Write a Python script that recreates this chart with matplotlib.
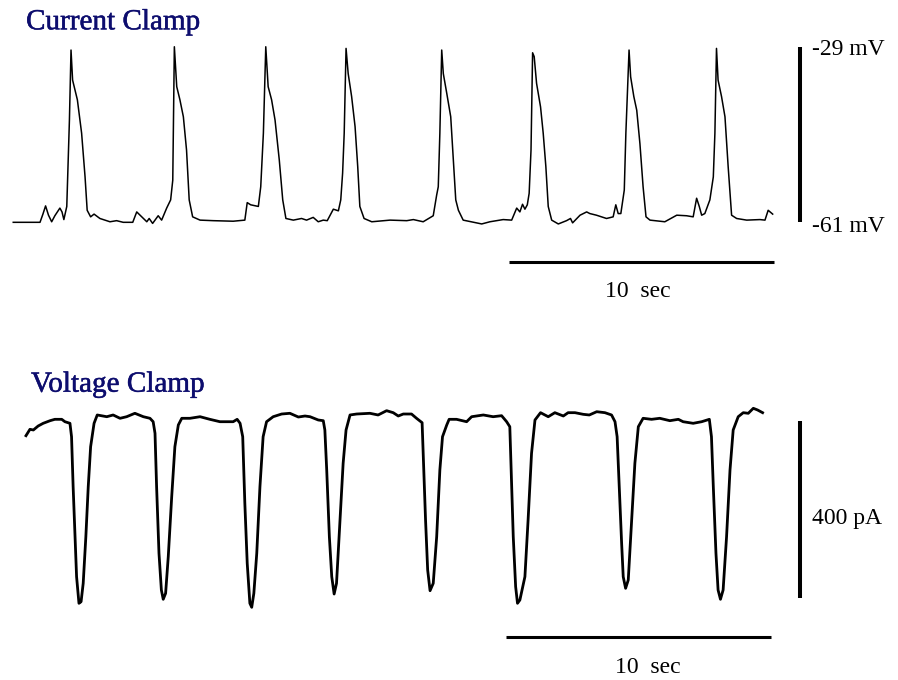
#!/usr/bin/env python3
"""
Current clamp / voltage clamp recordings with scale bars
"""

import numpy as np
import matplotlib
matplotlib.use('Agg')
import matplotlib.pyplot as plt
import matplotlib.patheffects as pe

# Current clamp trace: time (s) and membrane potential (mV)
cc_time = [0.01, 0.45, 0.83, 1.02, 1.13, 1.23, 1.34, 1.46, 1.58, 1.77, 1.85, 1.92, 2.03,
           2.13, 2.19, 2.25, 2.43, 2.59, 2.72, 2.80, 2.93, 3.06, 3.28, 3.66, 3.91, 4.16,
           4.52, 4.67, 4.86, 5.05, 5.14, 5.27, 5.48, 5.61, 5.80, 5.95,
           6.03, 6.09, 6.18, 6.30, 6.43, 6.55, 6.65, 6.78, 7.06, 7.56, 8.31, 8.75,
           8.84, 8.97, 9.26, 9.35, 9.45, 9.54, 9.63, 9.76, 9.89, 10.05, 10.18, 10.30,
           10.58, 10.89, 11.08, 11.33, 11.52, 11.71, 11.86, 12.09, 12.28, 12.37, 12.44,
           12.50, 12.57, 12.65, 12.78, 12.91, 13.01, 13.09, 13.25, 13.54, 14.23, 14.86,
           15.11, 15.48, 15.86, 15.99, 16.05, 16.11, 16.18, 16.24, 16.37, 16.52, 16.62,
           16.71, 16.81, 16.99, 17.50, 17.69, 18.00, 18.50, 18.82, 19.01, 19.13, 19.23,
           19.32, 19.41, 19.48, 19.55, 19.61, 19.67, 19.76, 19.91, 20.01, 20.11, 20.20,
           20.33, 20.58, 20.89, 21.04, 21.12, 21.40, 21.65, 21.77, 22.02, 22.40, 22.65,
           22.75, 22.84, 22.94, 23.07, 23.13, 23.25, 23.31, 23.43, 23.54, 23.66, 23.78,
           23.89, 24.04, 24.60, 25.05, 25.42, 25.67, 25.80, 25.90, 25.99, 26.11, 26.30,
           26.43, 26.49, 26.55, 26.61, 26.74, 26.87, 26.99, 27.12, 27.31, 27.69, 28.19,
           28.38, 28.50, 28.67]
cc_mv = [-61.0, -61.0, -61.0, -61.0, -59.5, -58.0, -59.7, -60.9, -59.8, -58.4, -59.1, -60.5,
         -58.1, -42.3, -29.5, -35.0, -38.6, -44.7, -52.7, -58.8, -60.0, -59.5, -60.3, -60.9,
         -60.7, -61.0, -61.0, -59.1, -60.0, -60.9, -60.3, -61.2, -59.8, -60.6, -58.4, -56.9,
         -53.3, -28.9, -36.2, -38.6, -41.7, -47.8, -56.9, -60.0, -60.6,
         -60.7, -60.8, -60.6, -57.4, -57.8, -58.1, -54.5, -44.7, -28.9, -36.2, -38.6, -42.3,
         -49.6, -56.9, -60.3, -60.6, -60.3, -60.6, -60.1, -60.9, -60.6, -60.7, -58.6, -58.9,
         -56.9, -52.0, -44.7, -29.2, -33.8, -38.0, -43.5, -50.8, -58.1, -60.3, -60.9, -60.6,
         -60.7, -60.5, -60.9, -59.8, -56.0, -54.5, -44.7, -29.5, -33.8, -37.4, -41.7, -49.6,
         -56.9, -58.8, -60.6, -61.1, -61.3, -60.9, -60.5, -60.6, -58.4, -59.1, -57.7, -58.6,
         -57.8, -55.7, -47.8, -30.0, -30.7, -35.6, -39.9, -44.7, -50.8, -58.1, -60.6, -61.3,
         -60.7, -60.3, -61.1, -59.7, -59.1, -59.4, -59.7, -60.3, -60.0, -57.8, -59.4, -59.4,
         -55.1, -44.7, -29.5, -34.4, -38.0, -40.5, -46.6, -54.5, -60.0, -60.6, -60.9, -59.7,
         -59.8, -60.0, -56.6, -58.1, -59.7, -59.4, -56.9, -52.7, -44.7, -29.2, -35.0, -38.0,
         -41.7, -50.8, -59.7, -60.3, -60.6, -60.5, -60.6, -58.8, -59.5]

# Voltage clamp trace: time (s) and holding current (pA)
vc_time = [0.00, 0.15, 0.28, 0.46, 0.65, 0.91, 1.09, 1.35, 1.47, 1.66, 1.72, 1.78, 1.85,
           1.91, 2.00, 2.08, 2.16, 2.26, 2.35, 2.44, 2.57, 2.69, 3.05, 3.29, 3.55, 3.80,
           4.11, 4.43, 4.68, 4.80, 4.87, 4.93, 5.02, 5.11, 5.18, 5.27, 5.37, 5.50, 5.62,
           5.75, 5.88, 6.19, 6.57, 6.94, 7.32, 7.82, 7.97, 8.08, 8.18, 8.26, 8.35, 8.45,
           8.52, 8.60, 8.71, 8.83, 8.95, 9.08, 9.33, 9.65, 9.96, 10.28, 10.53, 10.72,
           11.03, 11.22, 11.28, 11.35, 11.45, 11.54, 11.63, 11.72, 11.85, 11.97, 12.08,
           12.23, 12.48, 12.98, 13.29, 13.61, 13.86, 14.05, 14.24, 14.55, 14.74, 14.95,
           14.99, 15.08, 15.16, 15.25, 15.37, 15.50, 15.62, 15.72, 15.88, 15.97, 16.25,
           16.63, 16.82, 17.26, 17.63, 17.95, 18.14, 18.26, 18.33, 18.39, 18.48, 18.55,
           18.64, 18.83, 18.95, 19.08, 19.21, 19.42, 19.71, 19.96, 20.28, 20.46, 20.72,
           21.03, 21.26, 21.54, 21.85, 22.10, 22.23, 22.31, 22.39, 22.48, 22.54, 22.63,
           22.73, 22.86, 22.98, 23.11, 23.29, 23.61, 23.92, 24.30, 24.62, 24.80, 25.18,
           25.50, 25.79, 25.87, 25.94, 26.04, 26.12, 26.21, 26.31, 26.44, 26.57, 26.69,
           26.88, 27.07, 27.26, 27.45, 27.61, 27.80]
vc_pa = [-33.2, -18.8, -20.3, -11.3, -5.2, 0.7, 3.8, 3.8, -1.6, -5.2, -35.5, -148.5, -261.5,
         -351.9, -412.0, -408.4, -366.8, -261.5, -148.5, -58.1, -5.2, 13.6, 9.7, 13.6, 6.1,
         9.7, 17.4, 9.7, 6.1, -1.6, -27.8, -148.5, -299.0, -381.9, -402.9, -389.4, -306.7,
         -171.1, -58.1, -9.0, 6.1, 6.1, 9.7, 3.8, -1.6, -1.6, 3.8, -5.2, -35.5, -186.0,
         -321.6, -412.0, -421.0, -389.4, -299.0, -148.5, -35.5, -1.6, 9.7, 15.8, 17.4, 9.0,
         11.3, 9.7, 2.3, 0.7, -20.3, -110.7, -261.5, -351.9, -391.0, -366.8, -223.7, -95.6,
         -20.3, 13.6, 15.8, 17.4, 13.6, 23.3, 18.8, 11.3, 15.8, 15.8, 6.1, -3.8, -73.0,
         -223.7, -336.7, -383.5, -366.8, -261.5, -110.7, -35.5, -9.0, 3.8, 3.8, -1.6, 9.7,
         13.6, 9.7, 12.0, -1.6, -12.9, -148.5, -261.5, -374.5, -412.0, -404.5, -351.9,
         -223.7, -73.0, 2.3, 18.8, 9.7, 18.8, 11.3, 18.8, 18.8, 15.1, 13.6, 21.0, 18.8,
         13.6, -1.6, -35.5, -148.5, -276.4, -351.9, -378.1, -359.3, -223.7, -95.6, -12.9,
         6.1, 3.8, 6.1, 0.7, 3.8, -1.6, -5.2, -1.6, 3.8, -35.5, -148.5, -299.0, -381.9,
         -402.9, -381.9, -261.5, -110.7, -20.3, 9.7, 18.8, 17.4, 28.7, 24.9, 18.8]

TITLE_COLOR = '#0d0d6e'
SERIF = ['Liberation Serif', 'DejaVu Serif']


def draw_current_clamp(ax):
    """Membrane potential trace with time and voltage scale bars"""
    ax.plot(cc_time, cc_mv, color='black', linewidth=1.1)
    # voltage scale bar spans the full swing -61..-29 mV
    ax.plot([29.70, 29.70], [-29, -61], color='black', linewidth=2.9, solid_capstyle='butt')
    ax.text(30.15, -30.4, '-29 mV', fontsize=17, family=SERIF, va='baseline')
    ax.text(30.15, -62.7, '-61 mV', fontsize=17, family=SERIF, va='baseline')
    # 10 s time bar
    ax.plot([18.72, 28.72], [-68.3, -68.3], color='black', linewidth=2.2, solid_capstyle='butt')
    ax.text(23.58, -74.6, '10  sec', fontsize=17, family=SERIF, ha='center', va='baseline')
    ax.set_xlim(-0.49, 33.40)
    ax.set_ylim(-82.52, -20.35)
    ax.axis('off')


def draw_voltage_clamp(ax):
    """Holding current trace with time and current scale bars"""
    ax.plot(vc_time, vc_pa, color='black', linewidth=2.0)
    ax.plot([29.21, 29.21], [0, -400], color='black', linewidth=2.9, solid_capstyle='butt')
    ax.text(29.66, -232.8, '400 pA', fontsize=17, family=SERIF, va='baseline')
    ax.plot([18.11, 28.11], [-487.5, -487.5], color='black', linewidth=2.2, solid_capstyle='butt')
    ax.text(23.47, -570.2, '10  sec', fontsize=17, family=SERIF, ha='center', va='baseline')
    ax.set_xlim(-0.98, 32.91)
    ax.set_ylim(-585.3, 183.05)
    ax.axis('off')


def main():
    fig = plt.figure(figsize=(8.98, 6.80), dpi=100)

    ax_top = fig.add_axes([0, 0.5, 1, 0.5])
    draw_current_clamp(ax_top)
    ax_bot = fig.add_axes([0, 0, 1, 0.5])
    draw_voltage_clamp(ax_bot)

    # titles look slightly heavier than plain Times, thicken with a thin stroke
    heavy = [pe.withStroke(linewidth=0.35, foreground=TITLE_COLOR)]
    fig.text(0.029, 0.9569, 'Current Clamp', fontsize=21, family=SERIF,
             color=TITLE_COLOR, va='baseline', path_effects=heavy)
    fig.text(0.0345, 0.424, 'Voltage Clamp', fontsize=21, family=SERIF,
             color=TITLE_COLOR, va='baseline', path_effects=heavy)

    fig.savefig('out.png', dpi=100)
    plt.close(fig)


if __name__ == '__main__':
    main()
